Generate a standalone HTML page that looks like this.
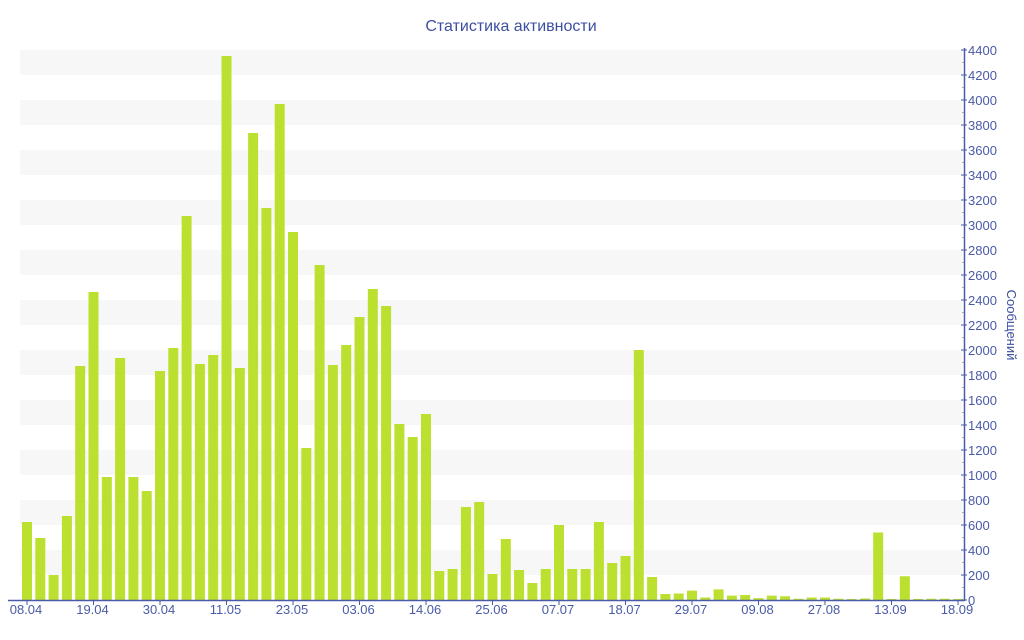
<!DOCTYPE html>
<html><head><meta charset="utf-8"><style>body{margin:0;background:#fff}svg{display:block}</style></head>
<body>
<svg id="c" width="1024" height="640" xmlns="http://www.w3.org/2000/svg" font-family="'Liberation Sans','DejaVu Sans',sans-serif">
<text x="511" y="31" text-anchor="middle" font-size="16" fill="#3d4f9f">Статистика активности</text>
<text transform="translate(1007,325) rotate(90)" text-anchor="middle" font-size="13" fill="#3d4f9f">Сообщений</text>
</svg>
<script>
var s=document.getElementById('c'),NS='http://www.w3.org/2000/svg';
function el(t,a,txt){var e=document.createElementNS(NS,t);for(var k in a)e.setAttribute(k,a[k]);if(txt!=null)e.textContent=txt;s.appendChild(e);return e;}
function Y(v){return 600-v*0.125;}
for(var v=200;v<4400;v+=400)el('rect',{x:20,y:Y(v+200),width:942,height:25,fill:'#f7f7f7'});
var d=[624,496,200,672,1872,2464,984,1936,984,872,1832,2016,3072,1888,1960,4352,1856,3736,3136,3968,2944,1216,2680,1880,2040,2264,2488,2352,1408,1304,1488,232,248,744,784,208,488,240,136,248,600,248,248,624,296,352,2000,184,48,52,75,20,85,35,40,15,35,30,10,20,20,10,8,12,540,8,190,8,10,10,8];
for(var i=0;i<d.length;i++){el('rect',{x:22+13.3*i,y:Y(d[i]),width:10,height:d[i]*0.125,fill:'#bce02f'});}
el('line',{x1:8,y1:600.5,x2:965,y2:600.5,stroke:'#4a5aa8','stroke-width':1.5});
el('line',{x1:964.5,y1:48,x2:964.5,y2:601,stroke:'#4a5aa8','stroke-width':1.5});
for(var v=0;v<=4400;v+=100){var y=Y(v);
 if(v%200==0){el('line',{x1:961,y1:y,x2:967,y2:y,stroke:'#4a5aa8'});el('text',{x:968,y:y+5,'font-size':13,fill:'#4a5aa8'},v);}
 else el('line',{x1:962,y1:y,x2:964,y2:y,stroke:'#aaa'});}
var L=['08.04','19.04','30.04','11.05','23.05','03.06','14.06','25.06','07.07','18.07','29.07','09.08','27.08','13.09','18.09'];
for(var j=0;j<L.length;j++){var x=27+13.3*5*j;el('line',{x1:x,y1:600,x2:x,y2:605,stroke:'#4a5aa8'});el('text',{x:x-1,y:614,'font-size':13,'text-anchor':'middle',fill:'#4a5aa8'},L[j]);}
</script>
</body></html>
